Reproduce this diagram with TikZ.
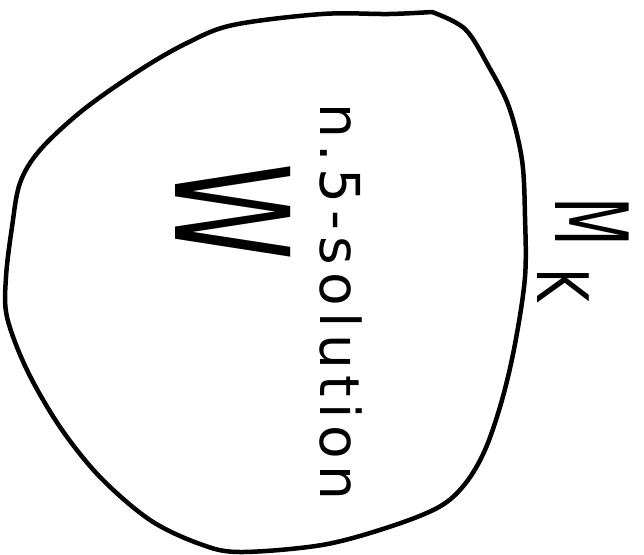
\documentclass[tikz,border=0pt]{standalone}
\usepackage{fontspec}
\setmainfont{DejaVu Sans}
\usetikzlibrary{positioning}

\begin{document}
\begin{tikzpicture}[x=1pt, y=-1pt,
        outline/.style={draw=black, line width=4.5pt, line cap=round, line join=round},
        note/.style={rotate=-90, inner sep=0pt, text=black}]

        \useasboundingbox (0,0) rectangle (644,554);

        % the region
        \draw[outline] plot[smooth, tension=0.55] coordinates {
            (432,12) (465,29) (489,67) (509,107) (522,160) (525,217) (525,277)
            (515,344) (502,400) (485,450) (465,484) (439,507) (389,527) (322,545)
            (240,552) (200,544) (150,520) (100,477) (60,427) (27,370) (7,317)
            (6,277) (12,227) (20,183) (40,150) (83,110) (140,70) (187,43)
            (233,25) (322,14) (389,14) (432,12)};

        \node[note, anchor=base, font=\fontsize{55}{60}\selectfont\addfontfeature{LetterSpace=12}] (sol) at (320,302) {n.5-solution};
        \node[note, anchor=base, font=\fontsize{158}{160}\selectfont] (w) at (175,212) {\scalebox{0.62}[1]{W}};
        \node[note, anchor=base west, font=\fontsize{101}{104}\selectfont] (mk) at (555,197)
            {\scalebox{0.56}[1]{M}\hspace{22pt}\raisebox{-18pt}{\fontsize{71}{74}\selectfont\scalebox{0.72}[1]{K}}};
\end{tikzpicture}
\end{document}
